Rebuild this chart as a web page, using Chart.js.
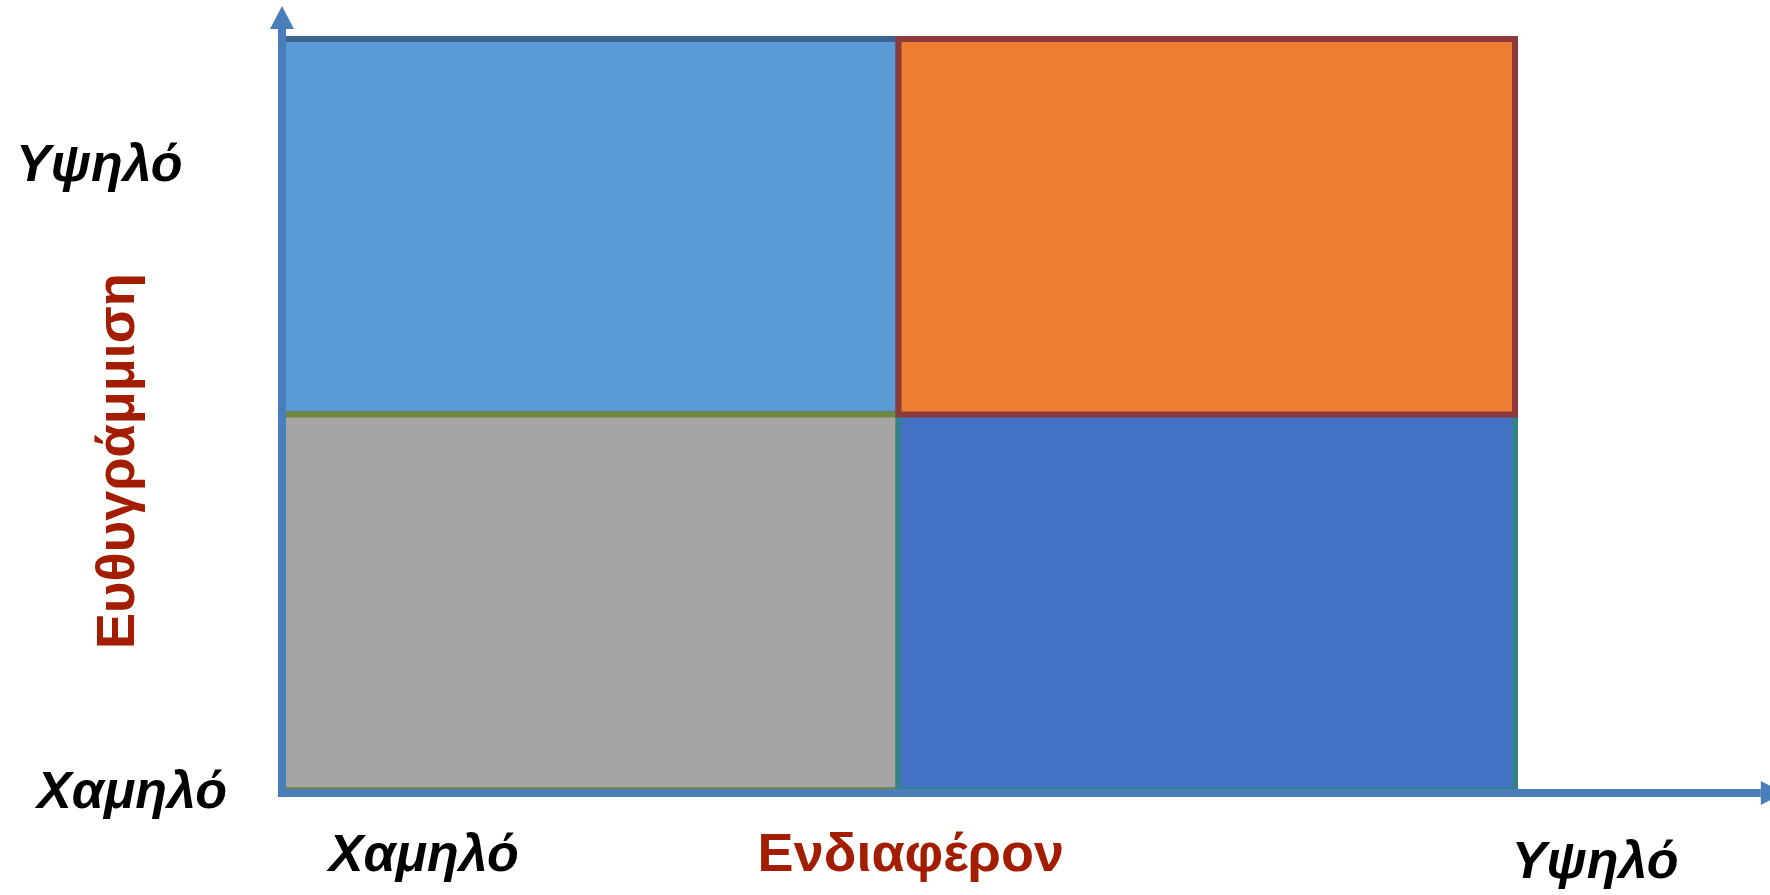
<!DOCTYPE html>
<html>
<head>
<meta charset="utf-8">
<script src="https://cdn.jsdelivr.net/npm/chart.js@4.4.0/dist/chart.umd.min.js"></script>
<style>
  html, body { margin: 0; padding: 0; background: #fff; }
</style>
</head>
<body>
<canvas id="quad" width="1770" height="895"></canvas>
<script>
// τεταρτημόρια: όρια σε μονάδες δεδομένων
const quadNames = ['Υψηλή ευθ. / Χαμηλό ενδ.', 'Υψηλή ευθ. / Υψηλό ενδ.', 'Χαμηλή ευθ. / Χαμηλό ενδ.', 'Χαμηλή ευθ. / Υψηλό ενδ.'];
const quadX = [[0, 1], [1, 2], [0, 1], [1, 2]];
const quadY = [[1, 2], [1, 2], [0, 1], [0, 1]];

const xTickLabels = ['Χαμηλό', 'Υψηλό'];
const xTickValues = [0.23, 2.13];
const yTickLabels = ['Χαμηλό', 'Υψηλό'];
const yTickValues = [0, 1.67];
const xTitle = 'Ενδιαφέρον';
const yTitle = 'Ευθυγράμμιση';

// χρώματα
const quadFill = ['#5B9BD5', '#ED7D31', '#A5A5A5', '#4472C4'];
const quadBorder = ['#3D6592', '#8C3A3C', '#6F8A3D', '#34808C'];
const axisColor = '#4A7EBB';
const titleColor = '#A31D00';

function rectPoints(xr, yr) {
  return [
    {x: xr[0], y: yr[0]}, {x: xr[1], y: yr[0]},
    {x: xr[1], y: yr[1]}, {x: xr[0], y: yr[1]},
    {x: xr[0], y: yr[0]}
  ];
}

// σειρά σχεδίασης: το πρώτο dataset σχεδιάζεται τελευταίο (από πάνω)
const drawOrder = [1, 3, 2, 0];
const datasets = drawOrder.map(i => ({
  label: quadNames[i],
  data: rectPoints(quadX[i], quadY[i]),
  backgroundColor: quadFill[i],
  borderColor: quadBorder[i],
  borderWidth: 6,
  borderCapStyle: 'square',
  borderJoinStyle: 'miter',
  fill: 'shape',
  tension: 0,
  pointRadius: 0,
  clip: false
}));

// άξονες με βέλη
const axisArrows = {
  id: 'axisArrows',
  afterDatasetsDraw(chart, args, opts) {
    const {ctx, scales: {x, y}} = chart;
    const x0 = x.getPixelForValue(0);
    const y0 = y.getPixelForValue(0) + opts.drop;
    const yTip = y.getPixelForValue(opts.yEnd);
    const xTip = x.getPixelForValue(opts.xEnd);
    ctx.save();
    ctx.strokeStyle = axisColor;
    ctx.fillStyle = axisColor;
    ctx.lineWidth = opts.width;
    ctx.lineCap = 'butt';

    ctx.beginPath();
    ctx.moveTo(x0, y0 + opts.width / 2);
    ctx.lineTo(x0, yTip + opts.head);
    ctx.stroke();
    ctx.beginPath();
    ctx.moveTo(x0, yTip);
    ctx.lineTo(x0 - opts.half, yTip + opts.head);
    ctx.lineTo(x0 + opts.half, yTip + opts.head);
    ctx.closePath();
    ctx.fill();

    ctx.beginPath();
    ctx.moveTo(x0 - opts.width / 2, y0);
    ctx.lineTo(xTip - opts.head, y0);
    ctx.stroke();
    ctx.beginPath();
    ctx.moveTo(xTip, y0);
    ctx.lineTo(xTip - opts.head, y0 - opts.half);
    ctx.lineTo(xTip - opts.head, y0 + opts.half);
    ctx.closePath();
    ctx.fill();
    ctx.restore();
  }
};

// ετικέτες αξόνων
const quadLabels = {
  id: 'quadLabels',
  afterDraw(chart, args, opts) {
    const {ctx, scales: {x, y}} = chart;
    const base = y.getPixelForValue(0);
    ctx.save();
    ctx.textBaseline = 'alphabetic';
    ctx.fillStyle = '#000';
    ctx.font = opts.tickFont;

    ctx.textAlign = 'left';
    yTickLabels.forEach((t, i) => {
      ctx.fillText(t, opts.yTickLeft[i], y.getPixelForValue(yTickValues[i]) + opts.capHalf);
    });

    ctx.textAlign = 'center';
    xTickLabels.forEach((t, i) => {
      ctx.fillText(t, x.getPixelForValue(xTickValues[i]), base + opts.xTickDrop[i]);
    });

    ctx.fillStyle = titleColor;
    ctx.font = opts.titleFont;
    ctx.fillText(xTitle, x.getPixelForValue(opts.xTitleAt), base + opts.xTickDrop[0]);

    ctx.translate(opts.yTitleBaseX, y.getPixelForValue(opts.yTitleAt));
    ctx.rotate(-Math.PI / 2);
    ctx.fillText(yTitle, 0, 0);
    ctx.restore();
  }
};

new Chart(document.getElementById('quad'), {
  type: 'line',
  data: { datasets },
  options: {
    responsive: false,
    animation: false,
    devicePixelRatio: 1,
    layout: { padding: { left: 282, top: 39, right: 255, bottom: 105 } },
    scales: {
      x: { type: 'linear', min: 0, max: 2, display: false },
      y: { type: 'linear', min: 0, max: 2, display: false }
    },
    plugins: {
      legend: { display: false },
      tooltip: { enabled: false },
      axisArrows: { width: 8, head: 23, half: 12, drop: 3, xEnd: 2.436, yEnd: 2.088 },
      quadLabels: {
        tickFont: 'italic bold 52px "Liberation Sans", Arial, sans-serif',
        titleFont: 'bold 54px "Liberation Sans", Arial, sans-serif',
        capHalf: 18,
        yTickLeft: [37, 16],
        xTickDrop: [81, 88],
        xTitleAt: 1.02,
        yTitleAt: 0.876,
        yTitleBaseX: 134
      }
    }
  },
  plugins: [axisArrows, quadLabels]
});
</script>
</body>
</html>
